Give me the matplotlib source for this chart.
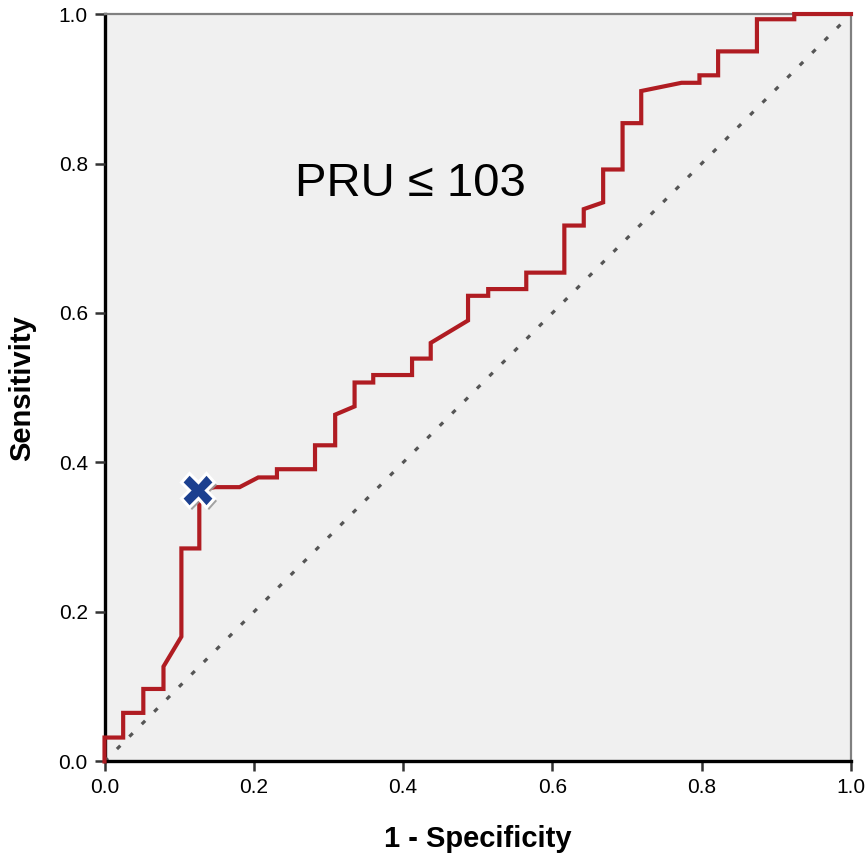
import numpy as np
import matplotlib
matplotlib.use("Agg")
import matplotlib.pyplot as plt
import matplotlib.patheffects as pe

plt.rcParams['font.family'] = ['Liberation Sans', 'DejaVu Sans']

# ROC curve (1 - specificity, sensitivity)
fpr = [0, 0, 0.025, 0.025, 0.052, 0.052, 0.079, 0.079, 0.103, 0.103, 0.127, 0.127,
       0.148, 0.181, 0.206, 0.231, 0.231, 0.282, 0.282, 0.309, 0.309, 0.335, 0.335,
       0.360, 0.360, 0.412, 0.412, 0.437, 0.437, 0.487, 0.487, 0.514, 0.514, 0.565,
       0.565, 0.616, 0.616, 0.642, 0.642, 0.668, 0.668, 0.694, 0.694, 0.719, 0.719,
       0.773, 0.797, 0.797, 0.822, 0.822, 0.874, 0.874, 0.924, 0.924, 1.0]
tpr = [0, 0.032, 0.032, 0.065, 0.065, 0.097, 0.097, 0.127, 0.167, 0.285, 0.285, 0.363,
       0.367, 0.367, 0.380, 0.380, 0.391, 0.391, 0.423, 0.423, 0.464, 0.475, 0.507,
       0.507, 0.517, 0.517, 0.539, 0.539, 0.560, 0.590, 0.623, 0.623, 0.632, 0.632,
       0.654, 0.654, 0.717, 0.717, 0.739, 0.748, 0.792, 0.792, 0.854, 0.854, 0.897,
       0.908, 0.908, 0.918, 0.918, 0.950, 0.950, 0.993, 0.993, 1.0, 1.0]

# cut-off point (PRU <= 103)
cut_x = [0.125]
cut_y = [0.363]

ticks = [0.0, 0.2, 0.4, 0.6, 0.8, 1.0]
tick_labels = ['0.0', '0.2', '0.4', '0.6', '0.8', '1.0']

fig = plt.figure(figsize=(8.68, 8.55), dpi=100)
ax = fig.add_axes([0.1204, 0.1094, 0.8600, 0.8742])
ax.set_facecolor('#f0f0f0')

# reference diagonal
ax.plot([0, 1], [0, 1], color='#555555', linestyle=(0, (1.5, 4.0)), linewidth=2.3, zorder=2)

ax.plot(fpr, tpr, color='#b01c22', linewidth=3.0, zorder=3, clip_on=False,
        solid_joinstyle='miter')

ax.plot(cut_x, cut_y, marker='X', markersize=24, color='#1b3f8f',
        markeredgecolor='white', markeredgewidth=2.2, linestyle='none', zorder=5,
        clip_on=False,
        path_effects=[pe.SimplePatchShadow(offset=(2, -2), shadow_rgbFace='#9a9a9a', alpha=0.9),
                      pe.Normal()])

ax.text(0.41, 0.772, 'PRU \u2264 103', fontsize=34, ha='center', va='center', color='black')

ax.set_xlim(0, 1)
ax.set_ylim(0, 1)
ax.set_xticks(ticks)
ax.set_xticklabels(tick_labels)
ax.set_yticks(ticks)
ax.set_yticklabels(tick_labels)
ax.tick_params(direction='out', length=7, width=1.8, color='#333333', labelsize=15, pad=5)

ax.spines['left'].set_linewidth(2.4)
ax.spines['bottom'].set_linewidth(2.4)
ax.spines['left'].set_color('black')
ax.spines['bottom'].set_color('black')
ax.spines['top'].set_linewidth(1.6)
ax.spines['right'].set_linewidth(1.6)
ax.spines['top'].set_color('#808080')
ax.spines['right'].set_color('#808080')
ax.spines['left'].set_zorder(1)

ax.set_xlabel('1 - Specificity', fontsize=21, fontweight='bold', labelpad=20)
ax.set_ylabel('Sensitivity', fontsize=21, fontweight='bold', labelpad=16)

fig.savefig('out.png', dpi=100, facecolor='white')
